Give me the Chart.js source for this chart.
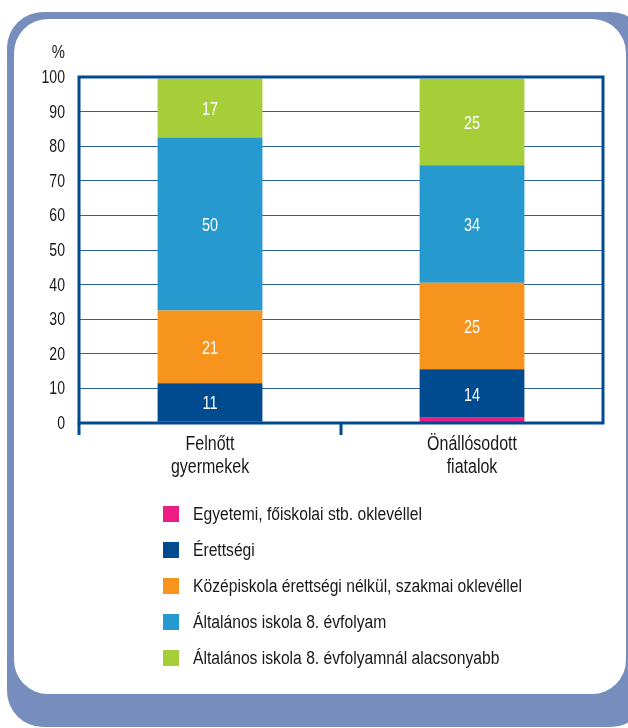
<!DOCTYPE html>
<html>
<head>
<meta charset="utf-8">
<script src="https://cdn.jsdelivr.net/npm/chart.js@4/dist/chart.umd.min.js"></script>
<style>
  html, body { margin:0; padding:0; background:#ffffff; width:628px; height:728px; overflow:hidden; }
  #frame { position:absolute; left:7px; top:12px; width:640px; height:715px; background:#768dbd; border-radius:36px; }
  #panel { position:absolute; left:14px; top:19px; width:612px; height:675px; background:#ffffff; border-radius:34px; }
  #chartBox { position:absolute; left:0; top:0; width:628px; height:728px; }
</style>
</head>
<body>
<div id="frame"></div>
<div id="panel"></div>
<div id="chartBox"><canvas id="c" width="628" height="728"></canvas></div>
<script>
const categories = [["Felnőtt", "gyermekek"], ["Önállósodott", "fiatalok"]];
const seriesNames = [
  "Egyetemi, főiskolai stb. oklevéllel",
  "Érettségi",
  "Középiskola érettségi nélkül, szakmai oklevéllel",
  "Általános iskola 8. évfolyam",
  "Általános iskola 8. évfolyamnál alacsonyabb"
];
const seriesColors = ["#ec1e83", "#004a8f", "#f7941d", "#2699cf", "#a6ce39"];
const egyetemi    = [0.5, 1.5];
const erettsegi   = [11, 14];
const kozepiskola = [21, 25];
const altalanos8  = [50, 34];
const alacsonyabb = [17, 25];
const yTicks = [0, 10, 20, 30, 40, 50, 60, 70, 80, 90, 100];
const seriesValues = [egyetemi, erettsegi, kozepiskola, altalanos8, alacsonyabb];

const FONT = "'Liberation Sans', Arial, sans-serif";
const AXIS = "#004a8f";
const TXT = "#1a1718";

function cText(ctx, t, x, y, align, size, sx, color) {
  ctx.save();
  ctx.font = size + 'px ' + FONT;
  ctx.fillStyle = color;
  ctx.textBaseline = 'alphabetic';
  const w = ctx.measureText(t).width * sx;
  let x0 = x;
  if (align === 'center') x0 = x - w / 2;
  else if (align === 'right') x0 = x - w;
  ctx.translate(x0, y);
  ctx.scale(sx, 1);
  ctx.textAlign = 'left';
  ctx.fillText(t, 0, 0);
  ctx.restore();
}

const decor = {
  id: 'decor',
  afterDatasetsDraw(chart) {
    const ctx = chart.ctx;
    const a = chart.chartArea;
    const ys = chart.scales.y, xs = chart.scales.x;
    // value labels
    chart.data.datasets.forEach((ds, di) => {
      const meta = chart.getDatasetMeta(di);
      meta.data.forEach((bar, i) => {
        const v = ds.data[i];
        if (v < 5) return;
        const y = (bar.y + bar.base) / 2;
        cText(ctx, String(Math.round(v)), bar.x, y + 7, 'center', 19, 0.76, '#ffffff');
      });
    });
    // axis box
    ctx.save();
    ctx.strokeStyle = AXIS;
    ctx.lineWidth = 3;
    ctx.strokeRect(a.left, a.top, a.right - a.left, a.bottom - a.top);
    ctx.beginPath();
    ctx.moveTo(a.left, a.bottom);
    ctx.lineTo(a.left, a.bottom + 12);
    const mid = (a.left + a.right) / 2;
    ctx.moveTo(mid, a.bottom);
    ctx.lineTo(mid, a.bottom + 12);
    ctx.stroke();
    ctx.restore();
    // y tick labels
    yTicks.forEach(v => {
      cText(ctx, String(v), 65, ys.getPixelForValue(v) + 6, 'right', 19, 0.74, TXT);
    });
    cText(ctx, '%', 65, 58, 'right', 19, 0.78, TXT);
    // x tick labels
    categories.forEach((lines, i) => {
      const x = xs.getPixelForTick(i);
      lines.forEach((l, j) => {
        cText(ctx, l, x, 450 + j * 23, 'center', 20, 0.8, TXT);
      });
    });
    // legend
    seriesNames.forEach((n, i) => {
      const top = 506 + i * 36;
      ctx.save();
      ctx.fillStyle = seriesColors[i];
      ctx.fillRect(163, top, 16, 16);
      ctx.restore();
      cText(ctx, n, 193, top + 13.5, 'left', 18, 0.87, TXT);
    });
  }
};

new Chart(document.getElementById('c'), {
  type: 'bar',
  data: {
    labels: categories,
    datasets: seriesNames.map((n, i) => ({
      label: n,
      data: seriesValues[i],
      backgroundColor: seriesColors[i],
      borderWidth: 0,
      categoryPercentage: 0.4,
      barPercentage: 1.0
    }))
  },
  options: {
    responsive: false,
    devicePixelRatio: 1,
    animation: false,
    layout: { padding: { top: 77, right: 25, left: 0, bottom: 0 } },
    plugins: { legend: { display: false }, tooltip: { enabled: false } },
    scales: {
      x: {
        stacked: true,
        grid: { display: false, drawTicks: false },
        border: { display: false },
        ticks: { display: false },
        afterFit(s) { s.height = 305; }
      },
      y: {
        stacked: true,
        min: 0, max: 100,
        afterBuildTicks(s) { s.ticks = yTicks.map(v => ({ value: v })); },
        grid: { color: '#2a62a0', lineWidth: 1, drawTicks: false },
        border: { display: false },
        ticks: { display: false },
        afterFit(s) { s.width = 79; }
      }
    }
  },
  plugins: [decor]
});
</script>
</body>
</html>
